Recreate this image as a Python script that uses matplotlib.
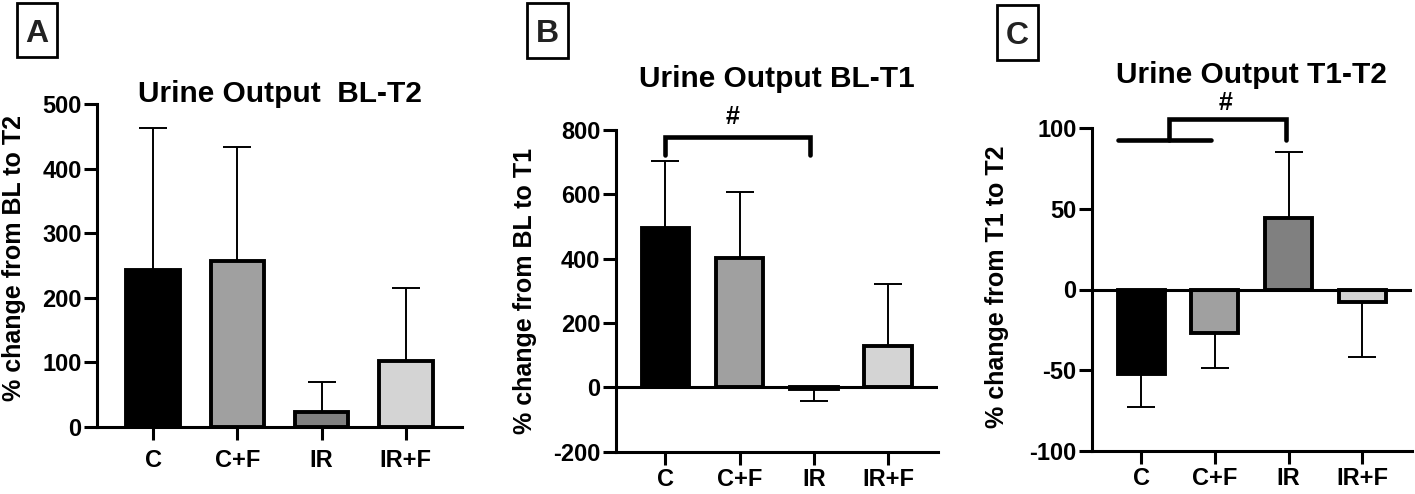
import matplotlib
matplotlib.use("Agg")
import matplotlib.pyplot as plt
from matplotlib.patches import Rectangle

plt.rcParams['font.family'] = ['Liberation Sans', 'DejaVu Sans']
plt.rcParams['font.weight'] = 'bold'

groups = ["C", "C+F", "IR", "IR+F"]
colors = ["#000000", "#a0a0a0", "#808080", "#d4d4d4"]

# Panel A: Urine Output BL-T2
a_mean = [243, 257, 23, 102]
a_err = [220, 177, 47, 113]
# Panel B: Urine Output BL-T1
b_mean = [494, 401, -5, 129]
b_err = [210, 207, 38, 192]
# Panel C: Urine Output T1-T2
c_mean = [-52.7, -27, 44.5, -8]
c_err = [20.5, 22, 41, 34]

W, H = 1415, 494
fig = plt.figure(figsize=(W / 100, H / 100), dpi=100)


def px_axes(left, right, top, bottom):
    return fig.add_axes([left / W, 1 - bottom / H, (right - left) / W, (bottom - top) / H])


def style(ax, ylim, yticks, zero_line):
    ax.set_xlim(-0.67, 3.67)
    ax.set_ylim(*ylim)
    ax.set_yticks(yticks)
    ax.set_yticklabels([str(t) for t in yticks])
    ax.set_xticks(range(len(groups)))
    ax.set_xticklabels(groups)
    for s in ["top", "right"]:
        ax.spines[s].set_visible(False)
    for s in ["left", "bottom"]:
        ax.spines[s].set_linewidth(2.2)
    ax.tick_params(axis="both", which="major", length=9.5, width=2.2, labelsize=17, direction="out")
    ax.tick_params(axis="x", pad=2.5)
    ax.tick_params(axis="y", pad=1.5)
    for lab in ax.get_xticklabels() + ax.get_yticklabels():
        lab.set_fontweight("bold")
    if zero_line:
        ax.axhline(0, color="black", lw=2.2, zorder=4)


def draw_bars(ax, means, errs):
    x = list(range(len(groups)))
    for i, (m, e) in enumerate(zip(means, errs)):
        yerr = [[0], [e]] if m >= 0 else [[e], [0]]
        ax.errorbar([x[i]], [m], yerr=yerr, fmt="none", ecolor="black", elinewidth=1.4,
                    capsize=10, capthick=1.4, zorder=2)
    ax.bar(x, means, width=0.64, color=colors, edgecolor="black", linewidth=2.8, zorder=3)


# Panel A
axA = px_axes(97, 462, 104, 427)
draw_bars(axA, a_mean, a_err)
style(axA, (0, 500), [0, 100, 200, 300, 400, 500], False)
axA.tick_params(axis="x", pad=6)

# Panel B
axB = px_axes(615.7, 938, 130, 451.7)
draw_bars(axB, b_mean, b_err)
style(axB, (-200, 800), [-200, 0, 200, 400, 600, 800], True)
axB.plot([0, 0, 1.95, 1.95], [722, 777, 777, 722], color="black", lw=3.3,
         solid_capstyle="round", solid_joinstyle="miter", clip_on=False, zorder=5)
axB.text(0.9, 803, "#", ha="center", va="bottom", fontsize=18, fontweight="bold")

# Panel C
axC = px_axes(1091.7, 1411.7, 128.3, 450.7)
draw_bars(axC, c_mean, c_err)
style(axC, (-100, 100), [-100, -50, 0, 50, 100], True)
axC.plot([-0.32, 0.95], [92.5, 92.5], color="black", lw=3.3, solid_capstyle="round", clip_on=False, zorder=5)
axC.plot([0.38, 0.38, 1.96, 1.96], [92.5, 106, 106, 93], color="black", lw=3.3,
         solid_capstyle="round", solid_joinstyle="miter", clip_on=False, zorder=5)
axC.text(1.15, 108.5, "#", ha="center", va="bottom", fontsize=18, fontweight="bold")

# Titles
fig.text(279.5 / W, 1 - 102 / H, "Urine Output  BL-T2", ha="center", va="baseline", fontsize=21.5, fontweight="bold")
fig.text(776.9 / W, 1 - 87 / H, "Urine Output BL-T1", ha="center", va="baseline", fontsize=21.5, fontweight="bold")
fig.text(1251.7 / W, 1 - 83 / H, "Urine Output T1-T2", ha="center", va="baseline", fontsize=21.5, fontweight="bold")

# Y labels
fig.text(14 / W, 1 - 258 / H, "% change from BL to T2", rotation=90, ha="center", va="center", fontsize=18, fontweight="bold")
fig.text(525 / W, 1 - 291 / H, "% change from BL to T1", rotation=90, ha="center", va="center", fontsize=18, fontweight="bold")
fig.text(997 / W, 1 - 287 / H, "% change from T1 to T2", rotation=90, ha="center", va="center", fontsize=18, fontweight="bold")

# Panel letters in boxes
for letter, (l, r, t, b) in zip(["A", "B", "C"], [(17, 57, 3, 57), (527, 568, 3, 58), (997, 1038, 5, 60)]):
    fig.add_artist(Rectangle((l / W, 1 - b / H), (r - l) / W, (b - t) / H, transform=fig.transFigure,
                             fill=False, edgecolor="black", linewidth=2.0))
    fig.text((l + r) / 2 / W, 1 - (t + b) / 2 / H, letter, ha="center", va="center_baseline",
             fontsize=23, fontweight="bold", color="#222222")

fig.savefig("out.png", dpi=100)
